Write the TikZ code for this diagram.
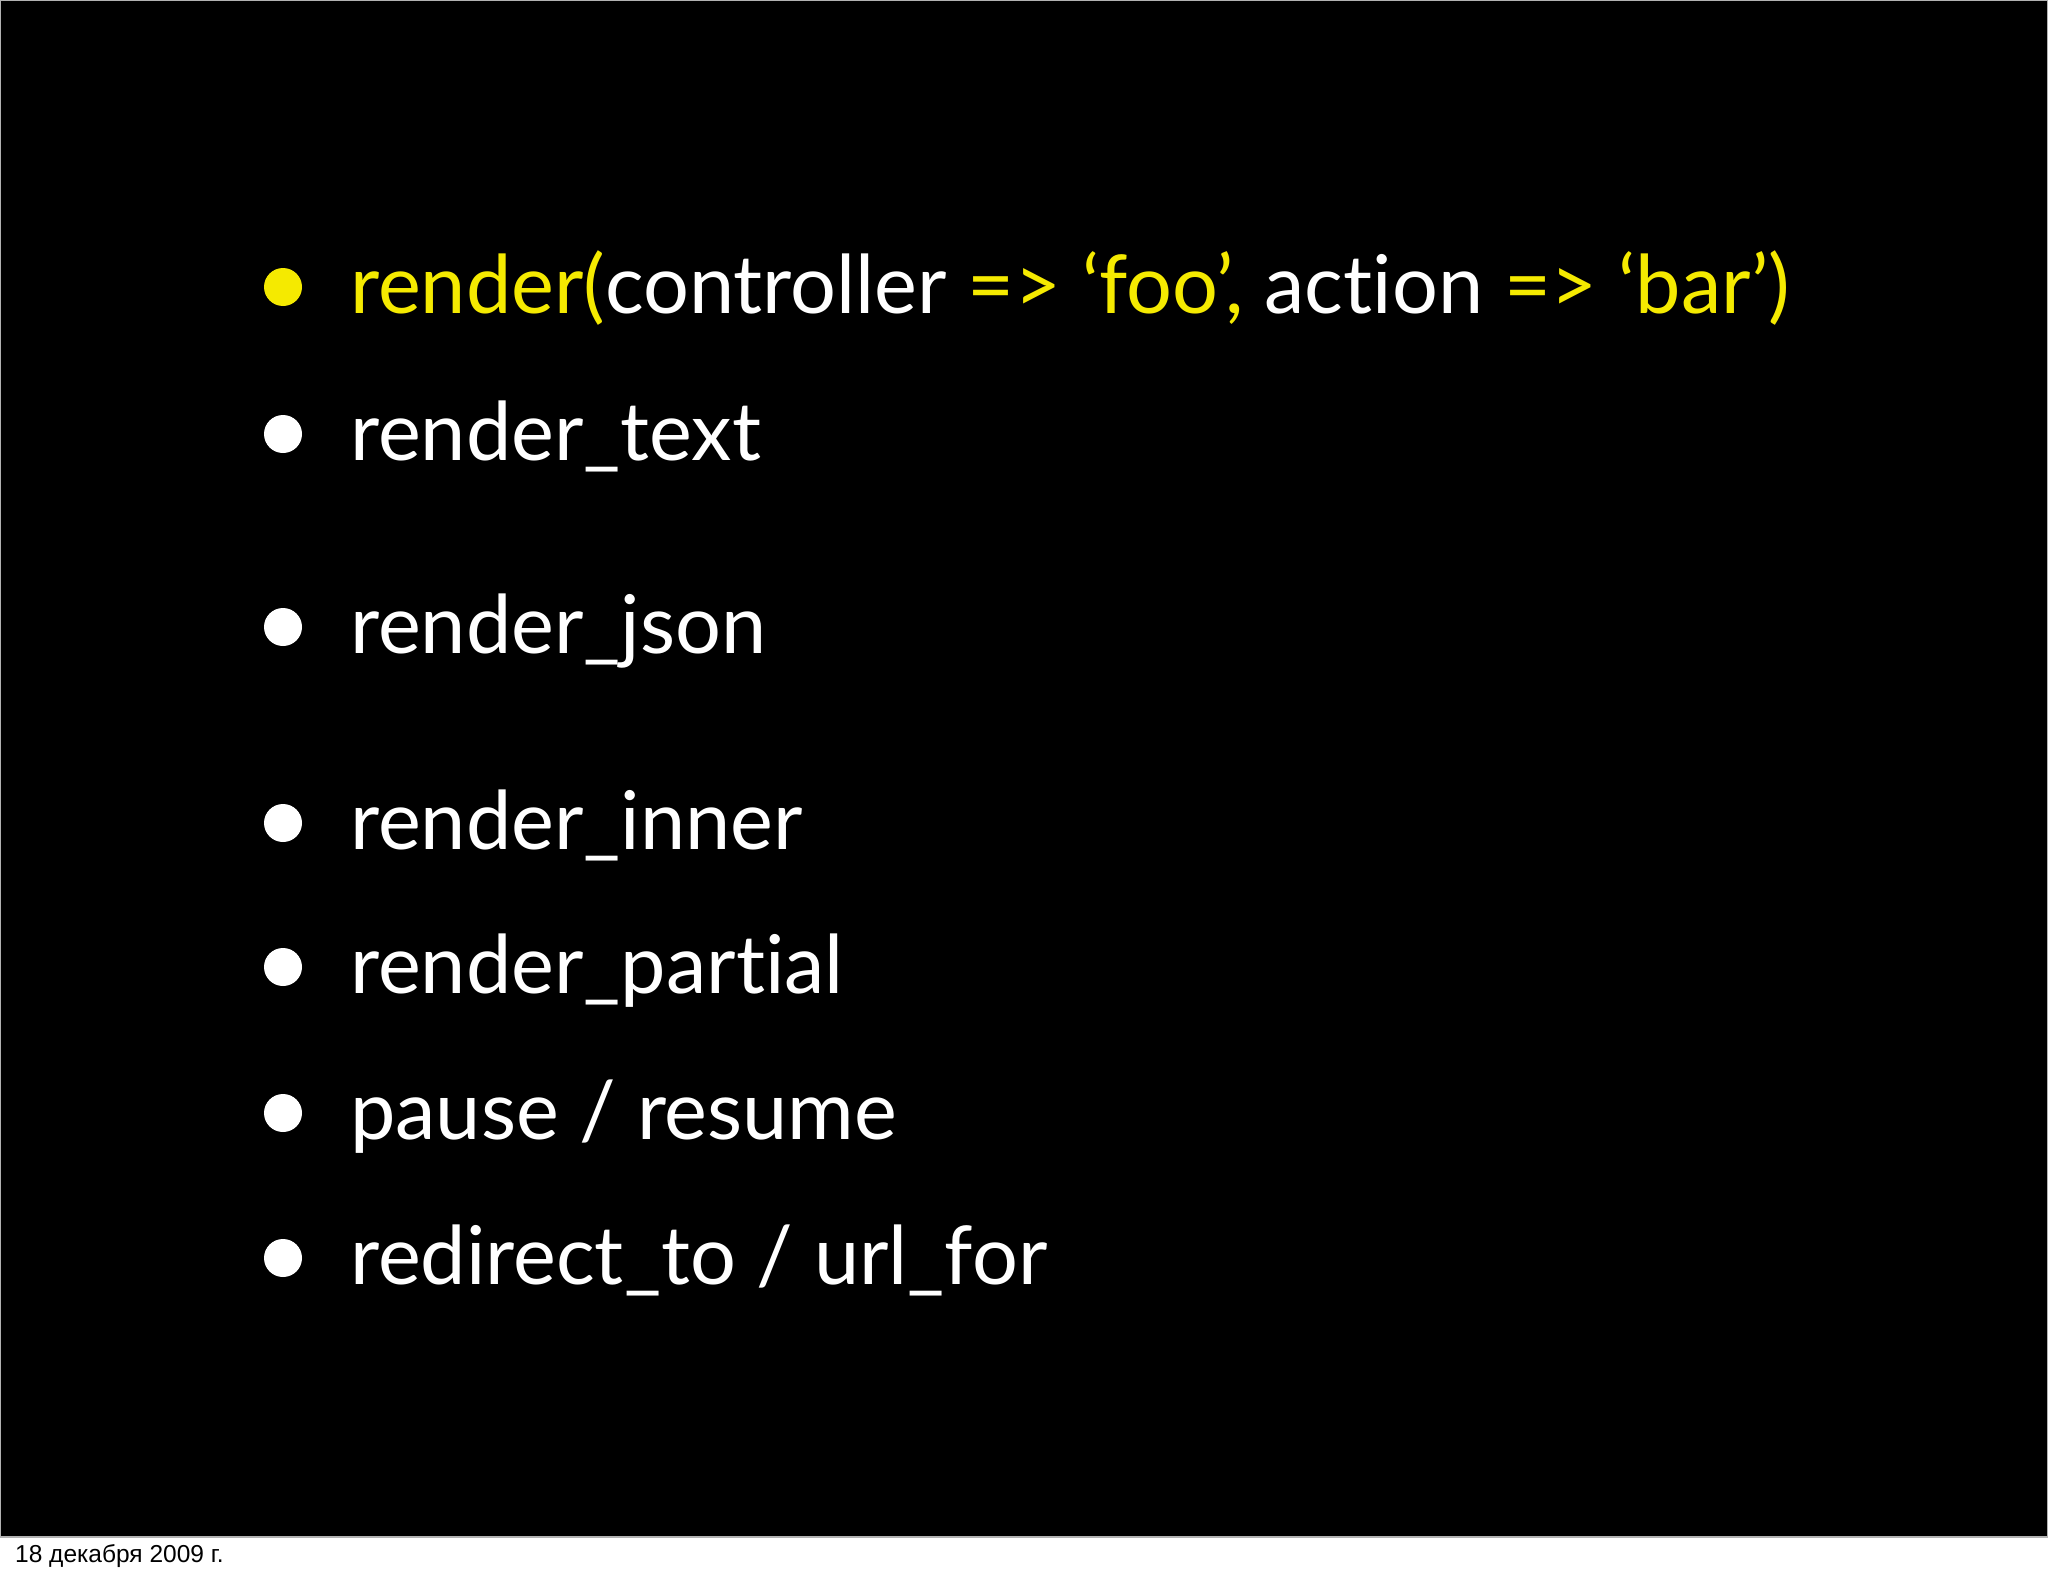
\documentclass[tikz,border=0pt]{standalone}
\usepackage{fontspec}
\setmainfont[Ligatures=NoCommon]{Lato}
\newfontfamily\footfont{Liberation Sans}
\definecolor{ylw}{HTML}{F5EA00}
\begin{document}
\begin{tikzpicture}[x=1pt,y=-1pt,
  item/.style={anchor=base west,inner sep=0pt,text=white,font=\fontsize{81}{95}\selectfont},
  dot/.style={circle,fill=white,inner sep=0pt,minimum size=38pt}]
\useasboundingbox (0,0) rectangle (2048,1576);
\fill[white] (0,0) rectangle (2048,1576);
\filldraw[fill=black,draw=gray!60,line width=1.5pt] (0,0) rectangle (2048,1537);
\node[dot,fill=ylw] (b1) at (283,287) {};
\node[item] (t1) at (350,313) {\textcolor{ylw}{render(}controller \textcolor{ylw}{=> ‘foo’,} action \textcolor{ylw}{=> ‘bar’)}};
\node[dot] (b2) at (283,434) {};
\node[item] (t2) at (350,460) {render\_text};
\node[dot] (b3) at (283,627) {};
\node[item] (t3) at (350,653) {render\_json};
\node[dot] (b4) at (283,823) {};
\node[item] (t4) at (350,849) {render\_inner};
\node[dot] (b5) at (283,967) {};
\node[item] (t5) at (350,993) {render\_partial};
\node[dot] (b6) at (283,1113) {};
\node[item] (t6) at (350,1139) {pause / resume};
\node[dot] (b7) at (283,1258) {};
\node[item] (t7) at (350,1284) {redirect\_to / url\_for};
\node[anchor=base west,inner sep=0pt,font=\footfont\fontsize{24.5}{28}\selectfont] (foot) at (15,1562) {18 декабря 2009 г.};
\end{tikzpicture}
\end{document}
